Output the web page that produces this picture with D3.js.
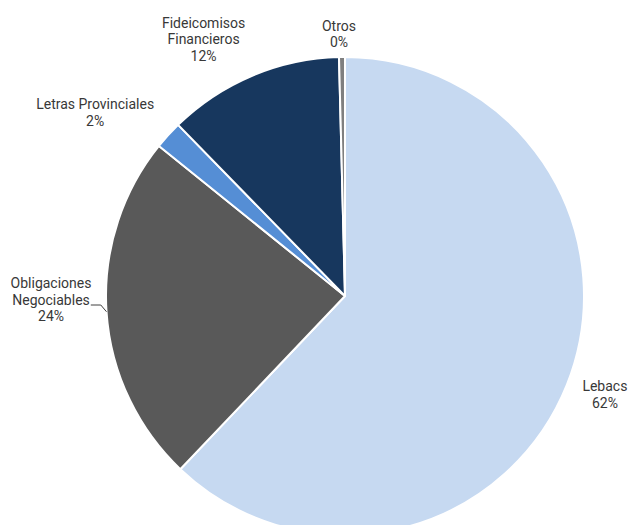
<!DOCTYPE html>
<html>
<head>
<meta charset="utf-8">
<script src="https://cdn.jsdelivr.net/npm/d3@7"></script>
<style>
  body { margin: 0; background: #fff; }
  text { font-family: Roboto, "Liberation Sans", sans-serif; font-size: 14px; fill: #383838; }
</style>
</head>
<body>
<div id="chart"></div>
<script>
var svgWidth = 629;
var svgHeight = 525;

// categories, clockwise from 12 o'clock
var categories = ["Lebacs", "Obligaciones Negociables", "Letras Provinciales", "Fideicomisos Financieros", "Otros"];
var values = [62.1, 23.7, 1.9, 11.9, 0.4];
var pctLabels = ["62%", "24%", "2%", "12%", "0%"];
var labelLines = [["Lebacs"], ["Obligaciones", "Negociables"], ["Letras Provinciales"], ["Fideicomisos", "Financieros"], ["Otros"]];
var colors = ["#c6d9f1", "#595959", "#558ed5", "#17375e", "#7f7f7f"];

// label placement: radius beyond the pie and nudge (deg) around the slice mid angle
var labelLayout = [
  { r: 278, da: -1 },
  { r: 294, da: 3 },
  { r: 310, da: -6 },
  { r: 293, da: -6 },
  { r: 262, da: -0.6 }
];

var cx = 345, cy = 296, radius = 239;

var svg = d3.select("#chart")
  .append("svg")
  .attr("width", svgWidth)
  .attr("height", svgHeight);

var g = svg.append("g")
  .attr("transform", `translate(${cx}, ${cy})`);

var pie = d3.pie().sort(null).value(d => d);
var arcs = pie(values);

var arc = d3.arc().innerRadius(0).outerRadius(radius);

g.selectAll("path.slice")
  .data(arcs)
  .enter()
  .append("path")
  .attr("class", "slice")
  .attr("d", arc)
  .attr("fill", (d, i) => colors[i])
  .attr("stroke", "#fff")
  .attr("stroke-width", 2)
  .attr("stroke-linejoin", "round");

function polar(a, r) {
  return [r * Math.sin(a), -r * Math.cos(a)];
}

var lineH = 16.5;

arcs.forEach((d, i) => {
  var mid = (d.startAngle + d.endAngle) / 2;
  var lay = labelLayout[i];
  var p = polar(mid + lay.da * Math.PI / 180, lay.r);
  var lines = labelLines[i].concat([pctLabels[i]]);
  var y0 = p[1] - (lines.length - 1) * lineH / 2;

  var t = g.append("text")
    .attr("text-anchor", "middle")
    .attr("x", p[0])
    .attr("y", y0)
    .attr("dy", "0.35em");

  var spans = [];
  lines.forEach((s, k) => {
    spans.push(t.append("tspan")
      .attr("x", p[0])
      .attr("y", y0 + k * lineH)
      .attr("dy", "0.35em")
      .text(s));
  });

  // leader line for Obligaciones Negociables, from end of 2nd line to the slice edge
  if (i === 1) {
    var edge = polar(mid, radius);
    var w = spans[1].node().getComputedTextLength();
    var lx = p[0] + w / 2 + 1;
    var ly = y0 + lineH + 5;
    g.append("path")
      .attr("d", `M${lx},${ly}H${lx + 10}L${edge[0]},${edge[1]}`)
      .attr("fill", "none")
      .attr("stroke", "#404040")
      .attr("stroke-width", 1);
  }
});
</script>
</body>
</html>
